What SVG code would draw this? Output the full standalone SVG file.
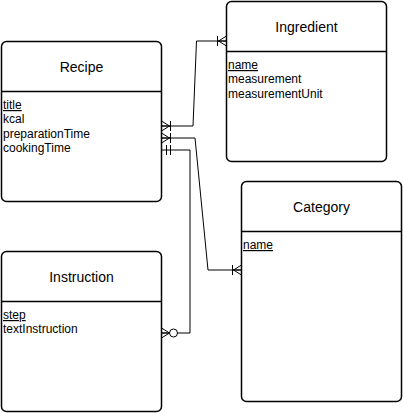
<svg xmlns="http://www.w3.org/2000/svg" width="403" height="413" viewBox="0 0 403 413">
<style>
.box{fill:#fff;stroke:#000;stroke-width:1.5}
.sep{stroke:#000;stroke-width:1.5}
.title{font-family:"Liberation Sans",Arial,sans-serif;font-size:14px;text-anchor:middle;fill:#000}
.attr{font-family:"Liberation Sans",Arial,sans-serif;font-size:12px;fill:#000}
.pk{text-decoration:underline}
.conn{fill:none;stroke:#000;stroke-width:1}
.mk{fill:none;stroke:#000;stroke-width:1}
</style>
<defs>
<marker id="oneMany" viewBox="-13 -7 14 14" refX="0" refY="0" markerWidth="14" markerHeight="14" markerUnits="userSpaceOnUse" orient="auto-start-reverse">
<path class="mk" d="M-8,0 L0,-5 M-8,0 L0,5 M-9,0 L0,0 M-9,-5 L-9,5"/>
</marker>
<marker id="zeroMany" viewBox="-18 -7 19 14" refX="0" refY="0" markerWidth="19" markerHeight="14" markerUnits="userSpaceOnUse" orient="auto-start-reverse">
<path class="mk" d="M-8,0 L0,-5 M-8,0 L0,5 M-8,0 L0,0"/>
<circle cx="-12" cy="0" r="4" fill="#fff" stroke="#000" stroke-width="1"/>
</marker>
<marker id="mandOne" viewBox="-13 -7 14 14" refX="0" refY="0" markerWidth="14" markerHeight="14" markerUnits="userSpaceOnUse" orient="auto-start-reverse">
<path class="mk" d="M-5,-5 L-5,5 M-9,-5 L-9,5"/>
</marker>
</defs>
<g id="connectors">
<path class="conn" d="M161.5,126 H193 L196.5,41 H226.5" marker-start="url(#oneMany)" marker-end="url(#oneMany)"/>
<path class="conn" d="M161.5,138 H195 L208,270 H241.5" marker-start="url(#oneMany)" marker-end="url(#oneMany)"/>
<path class="conn" d="M161.5,150 H190 V333 H161.5" marker-start="url(#mandOne)" marker-end="url(#zeroMany)"/>
</g>
<g id="recipe">
<rect class="box" x="1.5" y="41.5" width="160" height="160" rx="5"/>
<line class="sep" x1="1.5" y1="91.5" x2="161.5" y2="91.5"/>
<text class="title" x="81.5" y="72">Recipe</text>
<text class="attr pk" x="3" y="109">title</text>
<text class="attr" x="3" y="123.3">kcal</text>
<text class="attr" x="3" y="137.6">preparationTime</text>
<text class="attr" x="3" y="151.9">cookingTime</text>
</g>
<g id="ingredient">
<rect class="box" x="226.5" y="1.5" width="160" height="160" rx="5"/>
<line class="sep" x1="226.5" y1="51.5" x2="386.5" y2="51.5"/>
<text class="title" x="306.5" y="32">Ingredient</text>
<text class="attr pk" x="228" y="69">name</text>
<text class="attr" x="228" y="83.3">measurement</text>
<text class="attr" x="228" y="97.6">measurementUnit</text>
</g>
<g id="category">
<rect class="box" x="241.5" y="181.5" width="160" height="220" rx="5"/>
<line class="sep" x1="241.5" y1="231.5" x2="401.5" y2="231.5"/>
<text class="title" x="321.5" y="212">Category</text>
<text class="attr pk" x="243" y="249">name</text>
</g>
<g id="instruction">
<rect class="box" x="1.5" y="251.5" width="160" height="160" rx="5"/>
<line class="sep" x1="1.5" y1="301.5" x2="161.5" y2="301.5"/>
<text class="title" x="81.5" y="282">Instruction</text>
<text class="attr pk" x="3" y="319">step</text>
<text class="attr" x="3" y="333.3">textInstruction</text>
</g>
</svg>
